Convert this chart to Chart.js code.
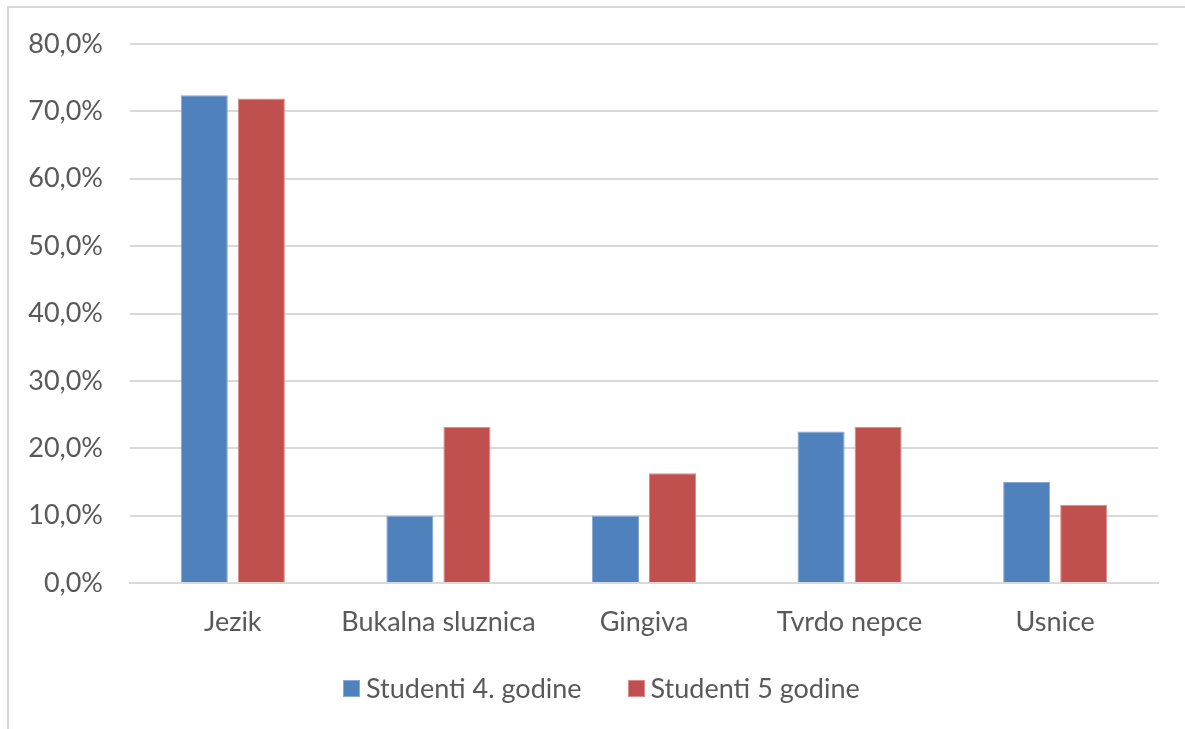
<!DOCTYPE html>
<html>
<head>
<meta charset="utf-8">
<script src="https://cdn.jsdelivr.net/npm/chart.js@4"></script>
<style>
  html, body { margin: 0; padding: 0; background: #fff; }
  #frame {
    position: absolute; left: 7px; top: 6px;
    width: 1190px; height: 740px;
    border: 2px solid #d9d9d9;
  }
  #wrap { position: absolute; left: 0; top: 0; width: 1185px; height: 729px; }
  #legend {
    position: absolute; left: 343px; top: 671px;
    display: flex; align-items: center;
    font-family: Lato, "Open Sans", sans-serif; font-size: 27px; color: #595959;
    line-height: 34px;
  }
  #legend .item { display: flex; align-items: center; margin-right: 46px; }
  #legend .box { width: 17px; height: 17px; margin-right: 6px; box-sizing: border-box; border: 1px solid; }
</style>
</head>
<body>
<div id="frame"></div>
<div id="wrap"><canvas id="chart" width="1185" height="729"></canvas></div>
<div id="legend"></div>
<script>
// categories and series (percent)
const categories = ['Jezik', 'Bukalna sluznica', 'Gingiva', 'Tvrdo nepce', 'Usnice'];
const studenti4 = [72.4, 10.0, 10.0, 22.5, 15.0];
const studenti5 = [71.9, 23.2, 16.3, 23.2, 11.6];
const yTicks = [0, 10, 20, 30, 40, 50, 60, 70, 80];

const textColor = '#595959';
const baseFont = { family: 'Lato, "Open Sans", sans-serif', size: 27 };

const fmtPct = (v) => v.toFixed(1).replace('.', ',') + '%';

const ctx = document.getElementById('chart').getContext('2d');
const chart = new Chart(ctx, {
  type: 'bar',
  data: {
    labels: categories,
    datasets: [
      {
        label: 'Studenti 4. godine',
        data: studenti4,
        backgroundColor: '#4F81BD',
        borderColor: '#86A9D6',
        borderWidth: 1,
        categoryPercentage: 0.555,
        barPercentage: 0.825
      },
      {
        label: 'Studenti 5 godine',
        data: studenti5,
        backgroundColor: '#C0504D',
        borderColor: '#DA8C8A',
        borderWidth: 1,
        categoryPercentage: 0.555,
        barPercentage: 0.825
      }
    ]
  },
  options: {
    responsive: false,
    animation: false,
    layout: { padding: { left: 13, right: 27, top: 44, bottom: 0 } },
    plugins: {
      tooltip: { enabled: false },
      legend: { display: false }
    },
    scales: {
      x: {
        grid: { display: false },
        border: { color: '#d9d9d9', width: 2 },
        afterFit: (scale) => { scale.height = 146; },
        ticks: { color: textColor, font: baseFont, padding: 15 }
      },
      y: {
        min: 0,
        max: 80,
        afterBuildTicks: (scale) => { scale.ticks = yTicks.map(v => ({ value: v })); },
        afterFit: (scale) => { scale.width = 117; },
        grid: { color: '#d9d9d9', lineWidth: 2, drawTicks: false },
        border: { display: false },
        ticks: {
          color: textColor,
          font: baseFont,
          padding: 27,
          callback: (v) => fmtPct(v)
        }
      }
    }
  }
});

// legend built from the chart's datasets
const legendEl = document.getElementById('legend');
chart.data.datasets.forEach(ds => {
  const item = document.createElement('div');
  item.className = 'item';
  const box = document.createElement('span');
  box.className = 'box';
  box.style.background = ds.backgroundColor;
  box.style.borderColor = ds.borderColor;
  const txt = document.createElement('span');
  txt.textContent = ds.label;
  item.appendChild(box);
  item.appendChild(txt);
  legendEl.appendChild(item);
});
</script>
</body>
</html>
